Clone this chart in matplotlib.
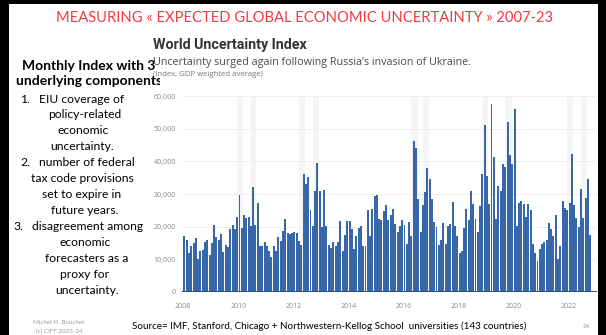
import matplotlib.pyplot as plt
import pandas as pd
from matplotlib.patches import Rectangle
from matplotlib.ticker import FuncFormatter
from matplotlib.transforms import Bbox, TransformedBbox

W, H = 606, 335

# World Uncertainty Index, monthly, GDP weighted average
wui_2008 = [17200, 16000, 11800, 14200, 15000, 16400, 10000, 12500, 13000, 15400, 16000, 11200]
wui_2009 = [15000, 20400, 16700, 16000, 17800, 12200, 14400, 13800, 19200, 20600, 19400, 23000]
wui_2010 = [29600, 19500, 23500, 22700, 23000, 20300, 32200, 20600, 27100, 14000, 14200, 15200]
wui_2011 = [14200, 12500, 10800, 14000, 12600, 16800, 15600, 18600, 22200, 18000, 17800, 18200]
wui_2012 = [18300, 18200, 15600, 14500, 36200, 33000, 35200, 25000, 20200, 30800, 39400, 30800]
wui_2013 = [19800, 31200, 20300, 14300, 13600, 15200, 14000, 15300, 21600, 12500, 17500, 21800]
wui_2014 = [21800, 19200, 13300, 17200, 19600, 20200, 14000, 14200, 25000, 17000, 25500, 29300]
wui_2015 = [29600, 22500, 22000, 24800, 26500, 22000, 23500, 25500, 20900, 18400, 20200, 22000]
wui_2016 = [20500, 14800, 21500, 17200, 46300, 44200, 28500, 18300, 26500, 30600, 38100, 34700]
wui_2017 = [28500, 21500, 20000, 14500, 16000, 21000, 14800, 20200, 20800, 27500, 20200, 17200]
wui_2018 = [11800, 12600, 19700, 25500, 22000, 31000, 27000, 22400, 18500, 26200, 36000, 51000]
wui_2019 = [35500, 27000, 57500, 41200, 22500, 32500, 31000, 39200, 38200, 52000, 42000, 39300]
wui_2020 = [56000, 20300, 27200, 28000, 26800, 23000, 27000, 25000, 14700, 11800, 9500, 13200]
wui_2021 = [14600, 15200, 16000, 21200, 19300, 17000, 23500, 10100, 14200, 28000, 25600, 25200]
wui_2022 = [27100, 42200, 26500, 22800, 19800, 31500, 22600, 28700, 34500, 17500]

wui = (wui_2008 + wui_2009 + wui_2010 + wui_2011 + wui_2012 + wui_2013 + wui_2014
       + wui_2015 + wui_2016 + wui_2017 + wui_2018 + wui_2019 + wui_2020 + wui_2021 + wui_2022)
months = pd.date_range("2008-01-01", periods=len(wui), freq="MS")

shaded_periods = [
    ("2009-12-15", "2010-03-01"), ("2010-06-08", "2010-08-25"),
    ("2012-03-20", "2012-06-10"), ("2012-09-15", "2012-12-01"),
    ("2016-04-10", "2016-07-08"), ("2016-09-12", "2016-12-12"),
    ("2018-11-05", "2019-02-01"), ("2019-09-12", "2019-12-10"),
    ("2021-12-15", "2022-03-05"), ("2022-06-12", "2022-09-01"),
]
year_ticks = [2008, 2010, 2012, 2014, 2016, 2018, 2020, 2022]
value_ticks = [0, 10000, 20000, 30000, 40000, 50000, 60000]

header = "MEASURING « EXPECTED GLOBAL ECONOMIC UNCERTAINTY » 2007-23"
title = "World Uncertainty Index"
subtitle = "Uncertainty surged again following Russia\u2019s invasion of Ukraine."
note = "(Index, GDP weighted average)"
side_heading = ["Monthly Index with 3", "underlying components"]
# (number, text) rows of the numbered list; continuation rows have no number
side_body = [
    ("1.", "EIU coverage of"), ("", "policy-related"), ("", "economic"), ("", "uncertainty."),
    ("2.", "number of federal"), ("", "tax code provisions"), ("", "set to expire in"),
    ("", "future years."),
    ("3.", "disagreement among"), ("", "economic"), ("", "forecasters as a"),
    ("", "proxy for"), ("", "uncertainty."),
]
source = "Source= IMF, Stanford, Chicago + Northwestern-Kellog School  universities (143 countries)"
author = ["Michel H. Bouchet", "(c) CIFF 2023-24"]
page = "24"


def fx(px):
    return px / W


def fy(py):
    return 1 - py / H


def fit_width(txt, px):
    # rescale the font so the text spans px pixels
    w = txt.get_window_extent(fig.canvas.get_renderer()).width
    txt.set_fontsize(txt.get_fontsize() * px / w)
    return txt.get_fontsize()


fig = plt.figure(figsize=(W / 100, H / 100), dpi=100)
fig.patch.set_facecolor("white")

# slide frame
for x, y, w, h in [(0, 0, 9, H), (598, 0, 8, H), (0, 0, W, 4)]:
    fig.add_artist(Rectangle((fx(x), fy(y + h)), w / W, h / H,
                             transform=fig.transFigure, color="black", lw=0))

t = fig.text(fx(305), fy(17.5), header, ha="center", va="center",
             color="#f03a45", family="Lato", fontsize=12)
fit_width(t, 495)

# left column, cut off where the chart picture starts
clip = TransformedBbox(Bbox([[0, 0], [fx(160), 1]]), fig.transFigure)
left_texts = []
t = fig.text(fx(89), fy(81), side_heading[1], ha="center", va="center",
             family="Lato", weight="bold", fontsize=10)
head_size = fit_width(t, 146)
left_texts.append(t)
left_texts.append(fig.text(fx(89), fy(66), side_heading[0], ha="center", va="center",
                           family="Lato", weight="bold", fontsize=head_size))

probe = fig.text(0, 0, "tax code provisions", family="Lato", fontsize=10)
size = fit_width(probe, 103)
probe.remove()

centers = [0, 85, 83, 82, 0, 82, 82, 85, 0, 85, 87, 85, 87]
for i, ((num, s), cx) in enumerate(zip(side_body, centers)):
    y = fy(99 + 16 * i)
    if num:
        # numbered rows hang from the left margin
        x0 = 13 if num == "3." else 20
        left_texts.append(fig.text(fx(x0), y, num, ha="left", va="center",
                                   family="Lato", fontsize=size))
        left_texts.append(fig.text(fx(x0 + 19), y, s, ha="left", va="center",
                                   family="Lato", fontsize=size))
    else:
        left_texts.append(fig.text(fx(cx), y, s, ha="center", va="center",
                                   family="Lato", fontsize=size))
for t in left_texts:
    t.set_clip_box(clip)
    t.set_clip_on(True)

# chart
t = fig.text(fx(153), fy(45), title, ha="left", va="center", color="#333333",
             family="Roboto", weight="bold", fontsize=10)
fit_width(t, 154)
t = fig.text(fx(153), fy(62), subtitle, ha="left", va="center", color="#4a4a4a",
             family="Open Sans", fontsize=8)
fit_width(t, 322)
t = fig.text(fx(153), fy(75), note, ha="left", va="center", color="#777777",
             family="Open Sans", fontsize=5)
fit_width(t, 112)

ax = fig.add_axes([fx(181.5), fy(292), fx(597) - fx(181.5), fy(96) - fy(292)])
for a, b in shaded_periods:
    ax.axvspan(pd.Timestamp(a), pd.Timestamp(b), color="#f5f5f5", lw=0, zorder=0)
ax.bar(months + pd.Timedelta(days=15), wui, width=26, color="#3767a9", lw=0, zorder=2)
ax.axhline(0, color="#34507a", lw=1.4, zorder=3)

ax.set_xlim(pd.Timestamp("2007-12-08"), pd.Timestamp("2023-01-15"))
ax.set_ylim(0, 60000)
ax.set_xticks([pd.Timestamp(f"{y}-01-01") for y in year_ticks])
ax.set_xticklabels([str(y) for y in year_ticks])
ax.set_yticks(value_ticks)
ax.yaxis.set_major_formatter(FuncFormatter(lambda v, p: f"{v:,.0f}"))
ax.yaxis.grid(True, color="#ececec", lw=0.6)
ax.set_axisbelow(True)
for side in ax.spines.values():
    side.set_visible(False)
ax.tick_params(axis="both", length=0, labelsize=5, labelcolor="#888888")
ax.tick_params(axis="y", pad=4)
ax.tick_params(axis="x", pad=8)
for lab in ax.get_xticklabels() + ax.get_yticklabels():
    lab.set_family("Open Sans")

# footer
t = fig.text(fx(132), fy(326), source, ha="left", va="center", color="black",
             family="Lato", fontsize=8)
fit_width(t, 398)
fig.text(fx(586), fy(326), page, ha="center", va="center", color="#999999",
         family="Lato", fontsize=4.5)
fig.text(fx(59), fy(322), author[0], ha="center", va="center", color="#999999",
         family="Lato", fontsize=4.5)
fig.text(fx(59), fy(331), author[1], ha="center", va="center", color="#999999",
         family="Lato", fontsize=4.5)

fig.savefig("out.png", dpi=100)
